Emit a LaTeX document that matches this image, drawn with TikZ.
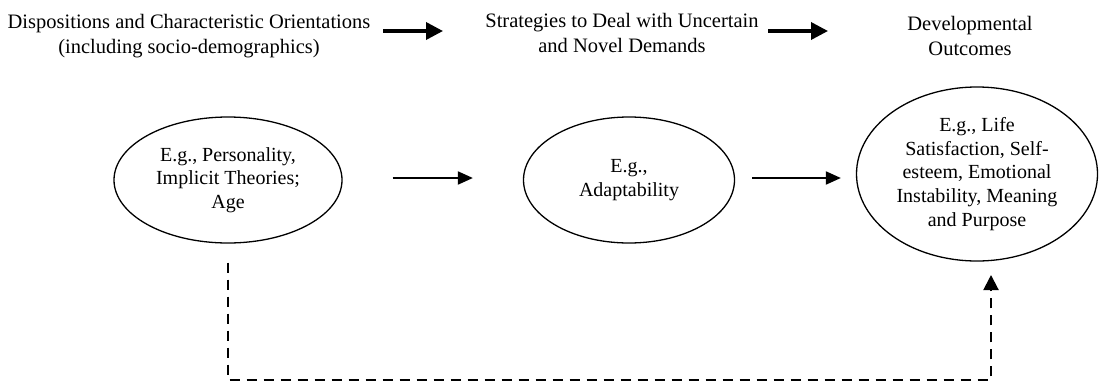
\documentclass[tikz,border=0pt]{standalone}
\usepackage{fontspec}
\setmainfont{Liberation Serif}
\usetikzlibrary{shapes.geometric,arrows.meta,calc}
\begin{document}
\begin{tikzpicture}[x=1pt,y=-1pt,
  every node/.style={inner sep=0pt,font=\fontsize{20}{23.7}\selectfont,align=center},
  heading/.style={anchor=north,font=\fontsize{20.5}{25.5}\selectfont},
  oval/.style={draw,ellipse,line width=1.3pt},
  bigarrow/.style={line width=3.5pt,-{Triangle[length=17pt,width=17pt]}},
  linkarrow/.style={line width=2pt,-{Triangle[length=15pt,width=13pt]}},
  dasharrow/.style={line width=2pt,dash pattern=on 10pt off 7pt,-{Triangle[length=15pt,width=15pt]}}]
  \useasboundingbox (0,0) rectangle (1099,383);
  % column headings
  \node[heading] (h1) at (189,14) {Dispositions and Characteristic Orientations\\(including socio-demographics)};
  \node[heading] (h2) at (622,13) {Strategies to Deal with Uncertain\\and Novel Demands};
  \node[heading] (h3) at (970,16) {Developmental\\Outcomes};
  \coordinate (a1s) at (383,31);
  \coordinate (a1e) at (443,31);
  \coordinate (a2s) at (768,31);
  \coordinate (a2e) at (828,31);
  \draw[bigarrow] (a1s) -- (a1e);
  \draw[bigarrow] (a2s) -- (a2e);
  % the three constructs
  \node[oval,minimum width=228pt,minimum height=126pt] (e1) at (228,180) {E.g., Personality,\\Implicit Theories;\\Age};
  \node[oval,minimum width=211pt,minimum height=126pt] (e2) at (629,180) {E.g.,\\Adaptability};
  \node[oval,minimum width=241pt,minimum height=174pt] (e3) at (977,174) {E.g., Life\\Satisfaction, Self-\\esteem, Emotional\\Instability, Meaning\\and Purpose};
  % links between constructs
  \coordinate (l1s) at ($(e1.east)+(50,-2)$);
  \coordinate (l1e) at ($(e2.west)+(-50,-2)$);
  \coordinate (l2s) at ($(e2.east)+(17,-2)$);
  \coordinate (l2e) at ($(e3.west)+(-15,4)$);
  \draw[linkarrow] (l1s) -- (l1e);
  \draw[linkarrow] (l2s) -- (l2e);
  % direct path
  \coordinate (d1) at ($(e1.south)+(0,19)$);
  \coordinate (d2) at (228,380);
  \coordinate (d3) at (991,380);
  \coordinate (d4) at (991,275);
  \draw[dasharrow] (d1) -- (d2) -- (d3) -- (d4);
\end{tikzpicture}
\end{document}
